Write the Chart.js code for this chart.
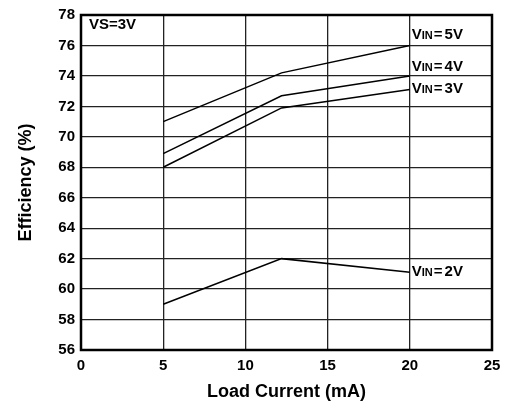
<!DOCTYPE html>
<html>
<head>
<meta charset="utf-8">
<script src="https://cdn.jsdelivr.net/npm/chart.js@4"></script>
<style>
  html, body { margin: 0; padding: 0; background: #fff; }
  #wrap { width: 517px; height: 407px; }
</style>
</head>
<body>
<div id="wrap"><canvas id="myChart" width="517" height="407"></canvas></div>
<script>
const loadCurrent = [5, 12.2, 20];
const vin5 = [71.0, 74.2, 76.0];
const vin4 = [68.9, 72.7, 74.0];
const vin3 = [68.0, 71.9, 73.1];
const vin2 = [59.0, 62.0, 61.1];
const seriesLabels = ["5V", "4V", "3V", "2V"];
const labelYs = [76.7, 74.6, 73.15, 61.1];

const FONT = "'Liberation Sans', Arial, sans-serif";

function toPoints(ys) {
  return ys.map((y, i) => ({ x: loadCurrent[i], y: y }));
}

const annotations = {
  id: "annotations",
  afterDatasetsDraw(chart) {
    const ctx = chart.ctx;
    const area = chart.chartArea;
    const xs = chart.scales.x;
    const ys = chart.scales.y;
    ctx.save();
    // frame
    ctx.strokeStyle = "#000";
    ctx.lineWidth = 2.5;
    ctx.strokeRect(area.left, area.top, area.right - area.left, area.bottom - area.top);
    ctx.fillStyle = "#000";
    ctx.textBaseline = "middle";
    ctx.textAlign = "left";
    ctx.font = "bold 15px " + FONT;
    ctx.fillText("VS=3V", area.left + 8, area.top + 10);
    // VIN labels
    const lx = xs.getPixelForValue(20) + 2;
    seriesLabels.forEach((lab, i) => {
      const py = ys.getPixelForValue(labelYs[i]);
      let x = lx;
      ctx.font = "bold 15px " + FONT;
      ctx.fillText("V", x, py);
      x += ctx.measureText("V").width;
      ctx.font = "bold 11px " + FONT;
      ctx.fillText("IN", x, py + 1);
      x += ctx.measureText("IN").width + 1;
      ctx.font = "bold 15px " + FONT;
      ctx.fillText("=", x, py);
      x += ctx.measureText("=").width + 2;
      ctx.fillText(lab, x, py);
    });
    ctx.restore();
  }
};

const lineStyle = {
  borderColor: "#000",
  borderWidth: 1.5,
  pointRadius: 0,
  tension: 0,
  fill: false
};

const ctx = document.getElementById("myChart").getContext("2d");

var chart = new Chart(ctx, {
  type: "line",
  data: {
    datasets: [
      Object.assign({ label: "VIN=5V", data: toPoints(vin5) }, lineStyle),
      Object.assign({ label: "VIN=4V", data: toPoints(vin4) }, lineStyle),
      Object.assign({ label: "VIN=3V", data: toPoints(vin3) }, lineStyle),
      Object.assign({ label: "VIN=2V", data: toPoints(vin2) }, lineStyle)
    ]
  },
  options: {
    responsive: false,
    animation: false,
    layout: { padding: { top: 10, right: 25, left: 0, bottom: 4 } },
    plugins: {
      legend: { display: false },
      tooltip: { enabled: false }
    },
    scales: {
      x: {
        type: "linear",
        min: 0,
        max: 25,
        ticks: {
          stepSize: 5,
          color: "#000",
          font: { family: FONT, size: 15, weight: "bold" },
          padding: 7
        },
        grid: { color: "#222", lineWidth: 1.3, drawTicks: false },
        border: { display: false },
        title: {
          display: true,
          text: "Load Current (mA)",
          color: "#000",
          font: { family: FONT, size: 18, weight: "bold" },
          padding: { top: 10, bottom: 0 }
        },
        afterFit(axis) { axis.height = 53; }
      },
      y: {
        min: 56,
        max: 78,
        ticks: {
          stepSize: 2,
          color: "#000",
          font: { family: FONT, size: 15, weight: "bold" },
          padding: 6
        },
        grid: { color: "#222", lineWidth: 1.3, drawTicks: false },
        border: { display: false },
        title: {
          display: true,
          text: "Efficiency (%)",
          color: "#000",
          font: { family: FONT, size: 18, weight: "bold" },
          padding: { top: 15, bottom: 10 }
        },
        afterFit(axis) { axis.width = 81; }
      }
    }
  },
  plugins: [annotations]
});
</script>
</body>
</html>
